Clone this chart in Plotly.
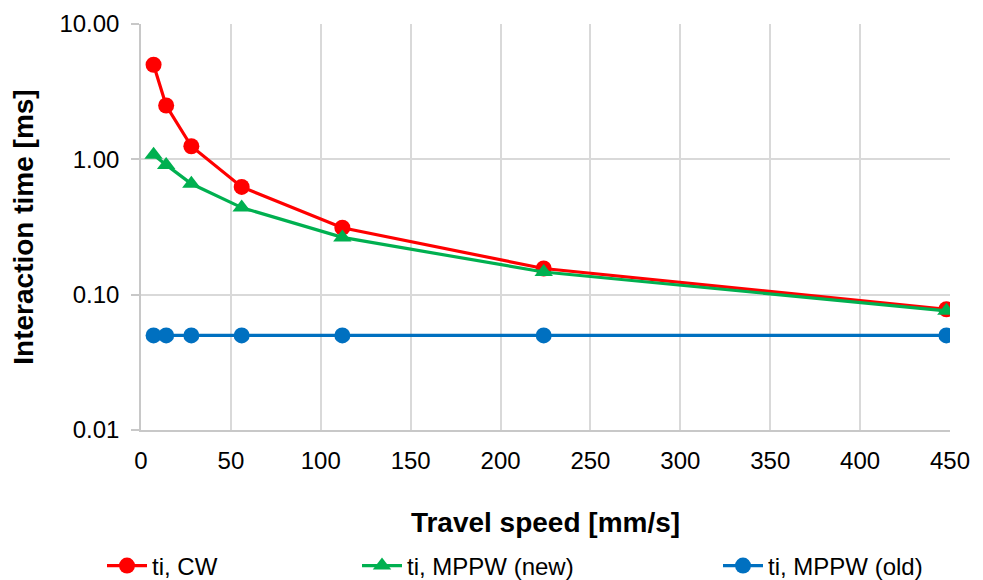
import plotly.graph_objects as go

speed = [7, 14, 28, 56, 112, 224, 448]
ti_cw = [5.0, 2.5, 1.25, 0.625, 0.3125, 0.156, 0.078]
ti_mppw_new = [1.08, 0.91, 0.66, 0.44, 0.265, 0.147, 0.076]
ti_mppw_old = [0.05, 0.05, 0.05, 0.05, 0.05, 0.05, 0.05]

y_ticks = [0.01, 0.1, 1, 10]
y_labels = ["0.01", "0.10", "1.00", "10.00"]
x_ticks = [0, 50, 100, 150, 200, 250, 300, 350, 400, 450]

fig = go.Figure()
fig.add_trace(go.Scatter(x=speed, y=ti_cw, name="ti, CW", mode="lines+markers",
                         line=dict(color="#ff0000", width=3.2),
                         marker=dict(symbol="circle", size=16, color="#ff0000"),
                         legend="legend"))
fig.add_trace(go.Scatter(x=speed, y=ti_mppw_new, name="ti, MPPW (new)", mode="lines+markers",
                         line=dict(color="#00b050", width=3.2),
                         marker=dict(symbol="triangle-up", size=16, color="#00b050"),
                         legend="legend2"))
fig.add_trace(go.Scatter(x=speed, y=ti_mppw_old, name="ti, MPPW (old)", mode="lines+markers",
                         line=dict(color="#0070c0", width=3.2),
                         marker=dict(symbol="circle", size=16, color="#0070c0"),
                         legend="legend3"))

OFF = 8  # page body margin
W, H = 983 - OFF, 580 - OFF
PL, PR, PT, PB = 141 - OFF, 950 - OFF, 24 - OFF, 430 - OFF
pw, ph = PR - PL, PB - PT
leg_y = -(566 - OFF - PB) / ph
leg_common = dict(orientation="h", xref="paper", yref="paper", yanchor="middle",
                  font=dict(size=24, color="#000000", family="Liberation Sans, Arial"),
                  bgcolor="rgba(0,0,0,0)", itemwidth=40)
fig.update_layout(
    width=W, height=H,
    margin=dict(l=PL, r=W - PR, t=PT, b=H - PB, autoexpand=False),
    paper_bgcolor="white", plot_bgcolor="white",
    font=dict(family="Liberation Sans, Arial", size=24, color="#000000"),
    showlegend=True,
    legend=dict(x=(102 - OFF - PL) / pw, y=leg_y, xanchor="left", **leg_common),
    legend2=dict(x=(357 - OFF - PL) / pw, y=leg_y, xanchor="left", **leg_common),
    legend3=dict(x=(718 - OFF - PL) / pw, y=leg_y, xanchor="left", **leg_common),
    xaxis=dict(range=[0, 450], tickvals=x_ticks, showgrid=True, gridcolor="#d9d9d9",
               gridwidth=1.5, showline=True, linecolor="#c8c8c8", linewidth=1.5,
               ticks="", zeroline=False, automargin=False, ticklabelstandoff=8,
               tickfont=dict(size=24),
               title=dict(text="<b>Travel speed [mm/s]</b>", font=dict(size=28), standoff=40)),
    yaxis=dict(type="log", range=[-2, 1], tickvals=y_ticks, ticktext=y_labels,
               showgrid=True, gridcolor="#d9d9d9", gridwidth=1.5,
               showline=True, linecolor="#c8c8c8", linewidth=1.5,
               ticks="outside", ticklen=8, tickcolor="#c8c8c8", tickwidth=1.5,
               tickfont=dict(size=24), automargin=False, ticklabelstandoff=7,
               title=dict(text="<b>Interaction time [ms]</b>", font=dict(size=28), standoff=28)),
)

fig.write_html("out.html")
